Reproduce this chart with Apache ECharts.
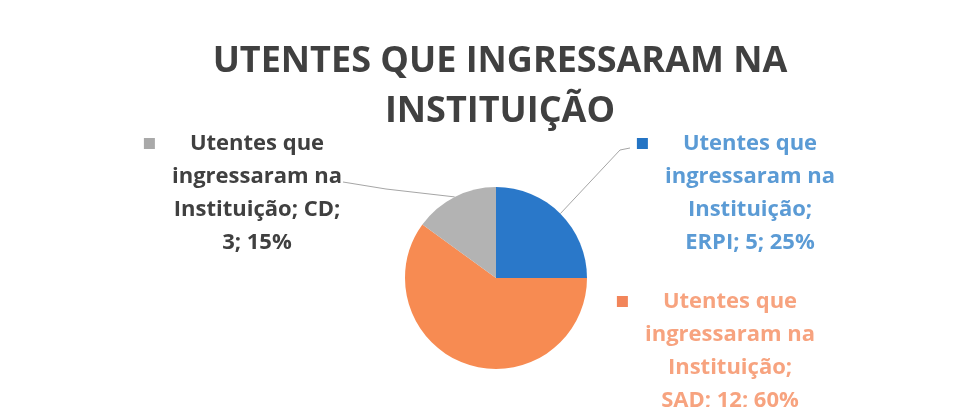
<!DOCTYPE html>
<html>
<head>
<meta charset="utf-8">
<script src="https://cdn.jsdelivr.net/npm/echarts@6/dist/echarts.min.js"></script>
<style>
  html, body { margin: 0; padding: 0; background: #fff; }
  #chart { width: 965px; height: 407px; }
</style>
</head>
<body>
<div id="chart"></div>
<script>
// dados
const seriesName = 'Utentes que ingressaram na Instituição';
const categories = ['ERPI', 'SAD', 'CD'];
const values = [5, 12, 3];
const sliceColors = ['#2a78c9', '#f78b52', '#b3b3b3'];
const labelColors = ['#5b9bd5', '#f7a37f', '#404040'];
const markerColors = ['#2474c4', '#f2855a', '#a9a9a9'];
// centro de cada rótulo (px)
const labelCenters = [[750, 193], [730, 351], [257, 193]];
// quebra de linha depois de "Instituição;"
const breakAfterInst = [true, true, false];
// pontos finais das linhas de chamada (null = sem linha)
const leaderEnds = [[[620, 150], [630, 148]], null, [[386, 189], [343, 182]]];

const chart = echarts.init(document.getElementById('chart'));

const data = categories.map((name, i) => ({
  name: name,
  value: values[i],
  itemStyle: { color: sliceColors[i] },
  labelLine: { show: !!leaderEnds[i] },
  label: {
    color: labelColors[i],
    rich: {
      m: { width: 11, height: 11, backgroundColor: markerColors[i] },
      g: { width: 35 },
      s: { width: 46 }
    }
  }
}));

const option = {
  backgroundColor: '#fff',
  title: {
    text: 'UTENTES QUE INGRESSARAM NA\nINSTITUIÇÃO',
    left: 495,
    top: 32,
    textAlign: 'center',
    textStyle: {
      fontFamily: 'Open Sans',
      fontWeight: 'bold',
      fontSize: 36,
      lineHeight: 50,
      color: '#404040'
    }
  },
  series: [
    {
      name: seriesName,
      type: 'pie',
      center: [496, 278],
      radius: 91,
      startAngle: 90,
      clockwise: true,
      animation: false,
      data: data,
      label: {
        show: true,
        position: 'outside',
        fontFamily: 'Open Sans',
        fontWeight: 'bold',
        fontSize: 22,
        lineHeight: 33,
        align: 'center',
        formatter: p => {
          const i = p.dataIndex;
          let s = '{m|}{g|}Utentes que{s|}\ningressaram na\n';
          if (breakAfterInst[i]) {
            s += 'Instituição;\n' + p.name + '; ' + p.value + '; ' + p.percent + '%';
          } else {
            s += 'Instituição; ' + p.name + ';\n' + p.value + '; ' + p.percent + '%';
          }
          return s;
        }
      },
      labelLine: {
        lineStyle: { color: '#a6a6a6', width: 1 }
      },
      labelLayout: params => {
        const i = params.dataIndex;
        const out = {
          x: labelCenters[i][0],
          y: labelCenters[i][1],
          align: 'center',
          verticalAlign: 'middle'
        };
        if (leaderEnds[i] && params.labelLinePoints) {
          out.labelLinePoints = [params.labelLinePoints[0]].concat(leaderEnds[i]);
        }
        return out;
      }
    }
  ]
};

chart.setOption(option);
window.addEventListener('resize', () => chart.resize());
</script>
</body>
</html>
